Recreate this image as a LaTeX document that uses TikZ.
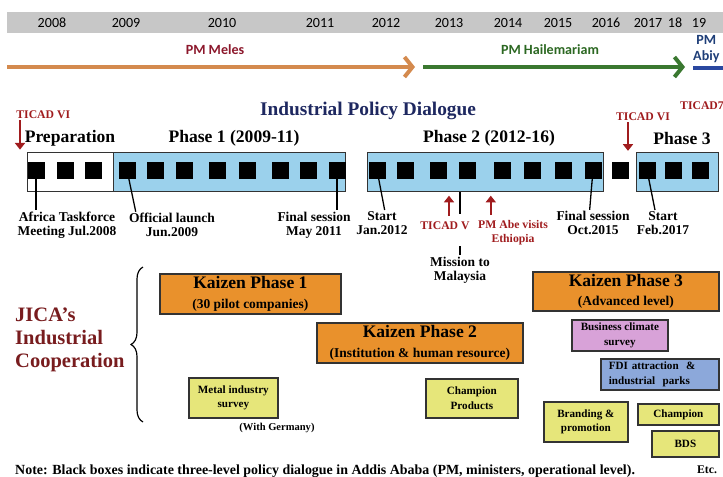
\documentclass[tikz,border=0pt]{standalone}
\usepackage{fontspec}
\setmainfont{Liberation Serif}
\newfontfamily\calfont{Carlito}
\usepackage{tikz}
\usetikzlibrary{arrows.meta,positioning,decorations.pathreplacing}
\definecolor{yearbar}{RGB}{199,199,199}
\definecolor{melescol}{RGB}{212,138,78}
\definecolor{hailecol}{RGB}{58,120,48}
\definecolor{abiycol}{RGB}{42,72,160}
\definecolor{melestext}{RGB}{140,24,44}
\definecolor{hailetext}{RGB}{44,104,34}
\definecolor{abiytext}{RGB}{30,62,120}
\definecolor{dlgtitle}{RGB}{30,40,96}
\definecolor{ticadred}{RGB}{160,28,30}
\definecolor{jicared}{RGB}{120,28,30}
\definecolor{phaseblue}{RGB}{155,209,236}
\definecolor{kaizen}{RGB}{233,145,44}
\definecolor{surveyyel}{RGB}{230,230,122}
\definecolor{climatepink}{RGB}{216,162,216}
\definecolor{fdiblue}{RGB}{140,168,218}

\tikzset{
  yearlbl/.style={font=\calfont\fontsize{12}{14}\selectfont,inner sep=0pt},
  pmlbl/.style={font=\calfont\bfseries\fontsize{12}{13}\selectfont,inner sep=0pt,align=center},
  pmarrow/.style={line width=3.4pt,-{Straight Barb[length=2.4mm,width=6mm]}},
  phasehead/.style={font=\bfseries\fontsize{15}{16}\selectfont,inner sep=0pt},
  dlgbox/.style={fill=black,minimum size=0.51cm,inner sep=0pt},
  phasebar/.style={draw=black!80,line width=1pt,anchor=north west,minimum height=1.17cm,inner sep=0pt},
  evt/.style={font=\bfseries\fontsize{11.5}{12}\selectfont,align=center,inner sep=1pt},
  ticad/.style={font=\bfseries\fontsize{10}{12}\selectfont,text=ticadred,align=center,inner sep=1pt},
  pinline/.style={line width=1.1pt},
  ticadarrow/.style={draw=ticadred,line width=2pt,-{Triangle[length=2mm,width=3mm]}},
  kzbox/.style={draw=black!80,line width=1.5pt,fill=kaizen,anchor=north west,align=center,inner sep=0pt,
    font=\bfseries\fontsize{15}{16.5}\selectfont},
  smallbox/.style={draw=black!80,line width=1.5pt,anchor=north west,align=center,inner sep=0pt,
    font=\bfseries\fontsize{9.5}{12.5}\selectfont},
}
\newcommand\kzsub[1]{{\fontsize{11.5}{12}\selectfont #1}}

\begin{document}
\begin{tikzpicture}[x=0.03cm,y=-0.03cm]
  \useasboundingbox (0,0) rectangle (723,477);
  \clip (0,0) rectangle (723,477);

  % year strip
  \fill[yearbar] (7,12) rectangle (730,33);
  \foreach \yr/\xx in {2008/52,2009/126,2010/222,2011/320,2012/386,2013/449,2014/508,2015/558,2016/606,2017/648,18/675,19/699}
    \node[yearlbl] (yr\yr) at (\xx,23) {\yr};

  % prime ministers
  \draw[pmarrow,melescol] (7,67) -- (415,67);
  \draw[pmarrow,hailecol] (423,67) -- (685,67);
  \draw[line width=2.6pt,abiycol] (693,68) -- (730,68);
  \node[pmlbl,text=melestext] (meles) at (215,50) {PM Meles};
  \node[pmlbl,text=hailetext] (haile) at (550,50) {PM Hailemariam};
  \node[pmlbl,text=abiytext,anchor=west] (abiy) at (693,49) {PM\\Abiy};

  % policy dialogue
  \node[font=\bfseries\fontsize{16.5}{18}\selectfont,text=dlgtitle,inner sep=0pt] (dlg) at (368,111) {Industrial Policy Dialogue};
  \node[phasebar,fill=white,minimum width=2.58cm] (prep) at (27,152) {};
  \node[phasebar,fill=phaseblue,minimum width=6.96cm] (ph1) at (113,152) {};
  \node[phasebar,fill=phaseblue,minimum width=7.08cm] (ph2) at (367,152) {};
  \node[phasebar,fill=phaseblue,minimum width=2.46cm] (ph3) at (636,152) {};
  \node[phasehead] (preplbl) at (70,138) {Preparation};
  \node[phasehead] (ph1lbl) at (234,138) {Phase 1 (2009-11)};
  \node[phasehead] (ph2lbl) at (489,138) {Phase 2 (2012-16)};
  \node[phasehead] (ph3lbl) at (682,138) {Phase 3};

  % dialogue sessions
  \foreach \xx [count=\i] in {36,65,93,127,155,184,217,247,280,308,337,377,405,438,467,502,532,563,593,620,647,673,700}
    \node[dlgbox] (d\i) at (\xx,170) {};

  % events
  \node[evt] (africa) at (67,225) {Africa Taskforce\\Meeting Jul.2008};
  \node[evt] (launch) at (172,225) {Official launch\\Jun.2009};
  \node[evt] (final1) at (314,225) {Final session\\May 2011};
  \node[evt] (start2) at (382,223) {Start\\Jan.2012};
  \node[evt] (final2) at (593,223) {Final session\\Oct.2015};
  \node[evt] (start3) at (663,223) {Start\\Feb.2017};
  \node[evt] (mission) at (460,270) {Mission to\\Malaysia};
  \draw[pinline] (d1.center) -- (d1.center |- africa.north);
  \draw[pinline] (d4.center) -- ([xshift=0.24cm]launch.north west);
  \draw[pinline] (d11.center) -- (d11.center |- final1.north);
  \draw[pinline] (d12.center) -- ([xshift=0.08cm]start2.north);
  \draw[pinline] (d19.center) -- ([xshift=-0.1cm]final2.north);
  \draw[pinline] (d21.center) -- ([xshift=-0.24cm]start3.north);
  \draw[pinline] (ph2.south -| mission.north) -- ++(0,22);
  \draw[pinline] (mission.north) -- ++(0,-9);

  % TICAD and visits
  \node[ticad,anchor=west] (tv1) at (15,115) {TICAD VI};
  \node[ticad] (tv2) at (643,117) {TICAD VI};
  \node[ticad] (t7) at (702,106) {TICAD7};
  \node[ticad] (tv) at (445,226) {TICAD V};
  \node[ticad] (abe) at (513,233) {PM Abe visits\\Ethiopia};
  \draw[ticadarrow,shorten >=2pt] ([xshift=0.15cm]tv1.south west) -- ([xshift=0.15cm]tv1.south west |- prep.north);
  \draw[ticadarrow,shorten >=1pt] ([xshift=-0.45cm]tv2.south) -- ([xshift=-0.45cm]tv2.south |- ph3.north);
  \draw[ticadarrow,shorten <=4pt,shorten >=3pt] ([xshift=0.12cm]tv.north) -- ([xshift=0.12cm]tv.north |- ph2.south);
  \draw[ticadarrow,shorten <=4pt,shorten >=3pt] ([xshift=0.42cm]abe.north west) -- ([xshift=0.42cm]abe.north west |- ph2.south);

  % JICA cooperation
  \node[font=\bfseries\fontsize{17.5}{19.6}\selectfont,text=jicared,align=left,anchor=west,inner sep=0pt] (jica) at (15,340) {JICA's\\Industrial\\Cooperation};
  \draw[line width=1pt,decorate,decoration={brace,amplitude=0.36cm}] (143,422) -- (143,267);
  \node[kzbox,minimum width=5.43cm,minimum height=1.2cm] (kz1) at (159,273) {Kaizen Phase 1\\\kzsub{(30 pilot companies)}};
  \node[kzbox,minimum width=6.18cm,minimum height=1.2cm] (kz2) at (316,322) {Kaizen Phase 2\\\kzsub{(Institution \& human resource)}};
  \node[kzbox,minimum width=5.58cm,minimum height=1.17cm] (kz3) at (532,271) {Kaizen Phase 3\\\kzsub{(Advanced level)}};
  \node[smallbox,fill=surveyyel,minimum width=2.67cm,minimum height=1.2cm] (metal) at (188,377) {Metal industry\\survey};
  \node[font=\bfseries\fontsize{9}{10}\selectfont,inner sep=0pt] (germany) at (277,428) {(With Germany)};
  \node[smallbox,fill=surveyyel,minimum width=2.76cm,minimum height=1.17cm] (champp) at (425,378) {Champion\\Products};
  \node[smallbox,fill=climatepink,minimum width=2.88cm,minimum height=0.93cm] (climate) at (571,319) {Business climate\\survey};
  \node[smallbox,fill=fdiblue,minimum height=0.93cm,inner xsep=0.24cm,text width=3.06cm,align=left] (fdi) at (600,358) {FDI attraction~~\&\\industrial~~parks};
  \node[smallbox,fill=surveyyel,minimum width=2.52cm,minimum height=1.2cm] (brand) at (543,401) {Branding \&\\promotion};
  \node[smallbox,fill=surveyyel,minimum width=2.43cm,minimum height=0.63cm] (champ) at (637,403) {Champion};
  \node[smallbox,fill=surveyyel,minimum width=2.01cm,minimum height=0.78cm] (bds) at (651,430) {BDS};

  % footnote
  \node[font=\bfseries\fontsize{11.9}{12}\selectfont,anchor=west,inner sep=0pt] (note) at (15,471) {Note: Black boxes indicate three-level policy dialogue in Addis Ababa (PM, ministers, operational level).};
  \node[font=\bfseries\fontsize{10}{12}\selectfont,inner sep=0pt] (etc) at (707,470) {Etc.};
\end{tikzpicture}
\end{document}
